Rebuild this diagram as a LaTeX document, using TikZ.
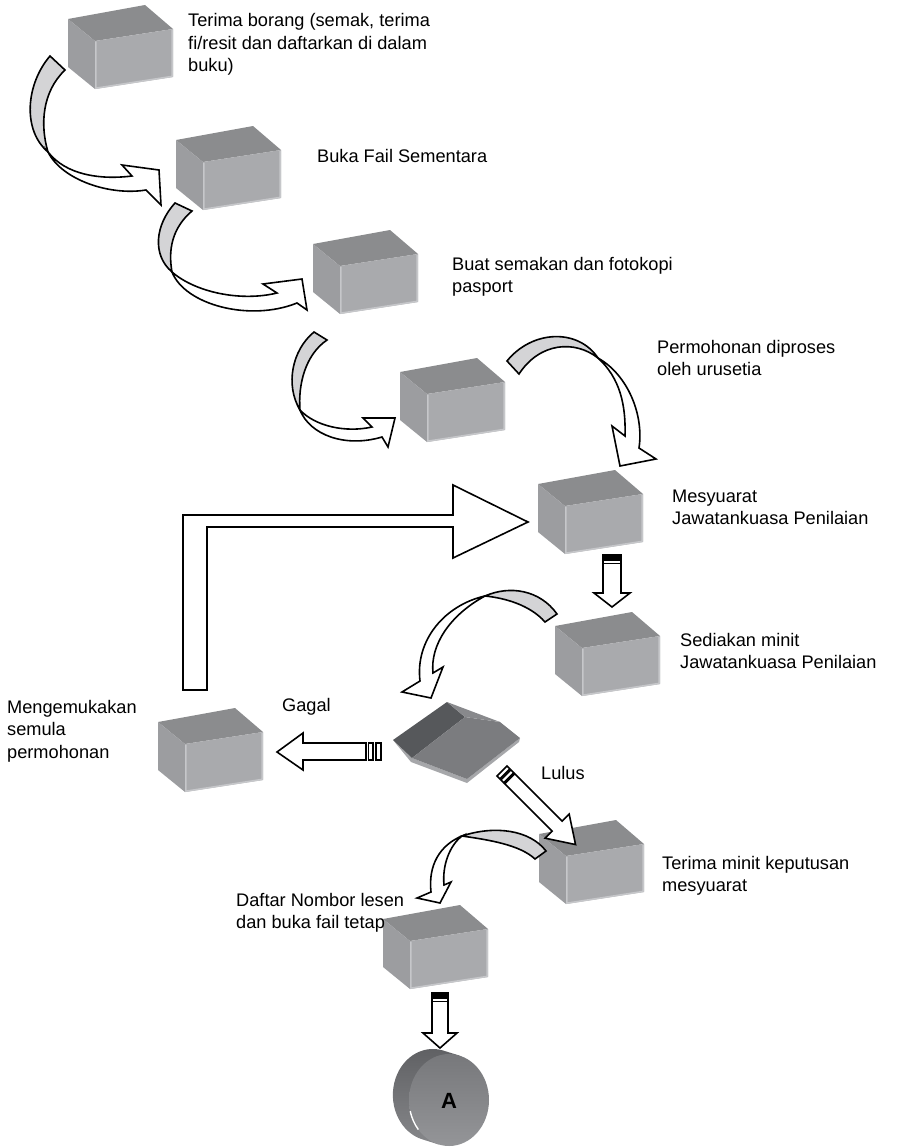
\documentclass[tikz,border=0pt]{standalone}
\usepackage{fontspec}
\setmainfont{Liberation Sans}
\newcommand\flowtext[1]{\begin{tabular}[t]{@{}l@{}}#1\end{tabular}}
\definecolor{cratetop}{HTML}{8B8C8E}
\definecolor{crateside}{HTML}{9C9DA0}
\definecolor{cratefront}{HTML}{A9AAAD}
\definecolor{crateedge}{HTML}{C6C7CA}
\definecolor{ribbon}{HTML}{D4D4D6}
\definecolor{gatedark}{HTML}{56585B}
\definecolor{gatemid}{HTML}{7B7C7F}
\definecolor{gatebevel}{HTML}{88898C}
\definecolor{gaterim}{HTML}{A6A7AA}
\definecolor{drumtop}{HTML}{5E5F62}
\definecolor{drumbottom}{HTML}{86878A}
\definecolor{facetop}{HTML}{77787B}
\definecolor{facebottom}{HTML}{949598}
\tikzset{
  crate/.pic={
    \fill[cratetop] (-27,-22) -- (50,-36) -- (78,-12) -- (0,0) -- cycle;
    \fill[crateside] (-27,-22) -- (0,0) -- (0,48) -- (-27,26) -- cycle;
    \fill[cratefront] (0,0) -- (78,-12) -- (78,36) -- (0,48) -- cycle;
    \draw[crateedge, line width=1.6pt, line join=round]
      (0.8,0.5) -- (0.8,47.2) -- (77.2,35.4) -- (77.2,-11.5);
  },
  outline/.style={draw=black, line width=1.6pt, line join=miter},
  band/.style={outline, fill=ribbon},
  bandfront/.style={outline, fill=white},
  lbl/.style={anchor=base west, inner sep=0pt,
    font=\fontsize{18.2}{22.5}\selectfont},
}
\begin{document}
\begin{tikzpicture}[x=1pt,y=-1pt]
\useasboundingbox (0,0) rectangle (897,1148);

% ---------- process boxes ----------
\coordinate (c1) at (95,41);
\coordinate (c2) at (203,162);
\coordinate (c3) at (340,266);
\coordinate (c4) at (427,394);
\coordinate (c5) at (565,506);
\coordinate (c6) at (582,648);
\coordinate (c7) at (185,744);
\coordinate (c8) at (566,856);
\coordinate (c9) at (410,941);
\foreach \c in {c1,c2,c3,c4,c5,c6,c7,c8,c9} { \pic at (\c) {crate}; }

% ---------- decision plate ----------
\fill[gaterim] (393,740) -- (412,758) -- (467,779) -- (520,738)
  -- (519,742) -- (467,783) -- (411,762) -- cycle;
\fill[gatedark] (393,740) -- (447,702) -- (465,717) -- (412,758) -- cycle;
\fill[gatemid] (412,758) -- (465,717) -- (500,722) -- (520,738) -- (467,779) -- cycle;
\fill[gatebevel] (447,702) -- (500,722) -- (465,717) -- cycle;

% ---------- connector drum ----------
\shade[top color=drumtop, bottom color=drumbottom]
  (422.5,1139.4) arc[start angle=105, end angle=285, x radius=40, y radius=46]
  -- (459.5,1055.6) -- (438.5,1144.4) -- cycle;
\shade[top color=facetop, bottom color=facebottom]
  (449,1100) ellipse[x radius=40, y radius=46];
\draw[white, line width=1.4pt]
  (449,1100) ++(140:40 and 46) arc[start angle=140, end angle=166, x radius=40, y radius=46];
\node[font=\fontsize{22}{24}\selectfont\bfseries] (drum) at (449,1101) {A};

% ---------- curved ribbon arrows ----------
% 1: Terima borang -> Buka Fail
\draw[band] (50,56) .. controls (26,84) and (22,130) .. (48,152)
  .. controls (40,125) and (42,92) .. (65,70) -- cycle;
\draw[bandfront] (48,152) .. controls (62,180) and (110,196) .. (146,190)
  -- (161,205) -- (159,170) -- (122,165) -- (132,176)
  .. controls (100,180) and (66,175) .. (48,152) -- cycle;
% 2: Buka Fail -> Buat semakan
\draw[band] (175,203) .. controls (155,225) and (152,255) .. (172,272)
  .. controls (168,250) and (172,228) .. (192,211) -- cycle;
\draw[bandfront] (172,272) .. controls (185,305) and (250,322) .. (297,303)
  -- (307,310) -- (302,279) -- (263,284) -- (277,293)
  .. controls (240,302) and (195,292) .. (172,272) -- cycle;
% 3: Buat semakan -> Permohonan diproses
\draw[band] (314,332) .. controls (292,350) and (285,385) .. (300,410)
  .. controls (298,385) and (305,355) .. (327,340) -- cycle;
\draw[bandfront] (300,410) .. controls (310,435) and (345,448) .. (382,437)
  -- (388,447) -- (395,418) -- (363,418) -- (372,427)
  .. controls (345,433) and (315,426) .. (300,410) -- cycle;
% 4: Permohonan diproses -> Mesyuarat
\draw[band] (507,361) .. controls (532,330) and (578,328) .. (598,358)
  .. controls (575,340) and (540,342) .. (519,374) -- cycle;
\draw[bandfront] (598,358) .. controls (628,375) and (644,415) .. (639,448)
  -- (656,459) -- (620,466) -- (612,426) -- (625,436)
  .. controls (626,405) and (620,378) .. (598,358) -- cycle;
% 5: Sediakan minit -> decision
\draw[band] (557,614) .. controls (540,590) and (510,585) .. (485,596)
  .. controls (505,598) and (530,605) .. (545,622) -- cycle;
\draw[bandfront] (485,596) .. controls (445,605) and (415,640) .. (420,681)
  -- (402,692) -- (431,698) -- (443,667) -- (433,673)
  .. controls (430,645) and (450,615) .. (485,596) -- cycle;
% 6: Terima minit keputusan -> Daftar Nombor
\draw[band] (546,851) .. controls (530,830) and (495,825) .. (462,836)
  .. controls (490,840) and (520,845) .. (535,859) -- cycle;
\draw[bandfront] (462,836) .. controls (440,845) and (428,865) .. (431,892)
  -- (417,898) -- (440,903) -- (451,882) -- (444,885)
  .. controls (442,865) and (450,845) .. (462,836) -- cycle;

% ---------- resubmission elbow arrow ----------
\draw[outline, fill=white] (183,690) -- (183,515) -- (453,515) -- (453,485)
  -- (528,522) -- (453,558) -- (453,527) -- (207,527) -- (207,690) -- cycle;

% ---------- straight arrows ----------
% Mesyuarat -> Sediakan minit
\draw[outline, fill=white] (603,555) -- (603,593) -- (594,593) -- (612,607)
  -- (630,593) -- (621,593) -- (621,555) -- cycle;
\fill (603,555) rectangle (621,560.5);
\draw[line width=1.5pt] (603,563.5) -- (621,563.5);
% Daftar Nombor -> A
\draw[outline, fill=white] (432,993) -- (432,1033) -- (423,1033) -- (440,1048)
  -- (457,1033) -- (448,1033) -- (448,993) -- cycle;
\fill (432,993) rectangle (448,998.5);
\draw[line width=1.5pt] (432,1001.5) -- (448,1001.5);
% decision -> Mengemukakan semula (Gagal)
\draw[outline, fill=white] (366,743) -- (303,743) -- (303,733) -- (277,752)
  -- (303,770) -- (303,760) -- (366,760) -- cycle;
\draw[outline, fill=white] (368.5,743) rectangle (373,760);
\draw[outline, fill=white] (376,743) rectangle (381,760);
% decision -> Terima minit keputusan (Lulus)
\begin{scope}[shift={(502,771)}, rotate=-45]
  \draw[outline, fill=white] (11,-7) -- (78,-7) -- (78,-17) -- (104,0)
    -- (78,17) -- (78,7) -- (11,7) -- cycle;
  \draw[outline, fill=white] (0,-7) rectangle (4,7);
  \draw[outline, fill=white] (5.5,-7) rectangle (9.5,7);
\end{scope}

% ---------- labels ----------
\node[lbl] (t1) at (188,27) {\flowtext{Terima borang (semak, terima\\fi/resit dan daftarkan di dalam\\buku)}};
\node[lbl] (t2) at (317,162) {Buka Fail Sementara};
\node[lbl] (t3) at (452,270) {\flowtext{Buat semakan dan fotokopi\\pasport}};
\node[lbl] (t4) at (657,353) {\flowtext{Permohonan diproses\\oleh urusetia}};
\node[lbl] (t5) at (672,502) {\flowtext{Mesyuarat\\Jawatankuasa Penilaian}};
\node[lbl] (t6) at (680,646) {\flowtext{Sediakan minit\\Jawatankuasa Penilaian}};
\node[lbl] (t7) at (7,713) {\flowtext{Mengemukakan\\semula\\permohonan}};
\node[lbl] (t8) at (282,711) {Gagal};
\node[lbl] (t9) at (541,779) {Lulus};
\node[lbl] (t10) at (662,869) {\flowtext{Terima minit keputusan\\mesyuarat}};
\node[lbl] (t11) at (236,906) {\flowtext{Daftar Nombor lesen\\dan buka fail tetap}};
\end{tikzpicture}
\end{document}
